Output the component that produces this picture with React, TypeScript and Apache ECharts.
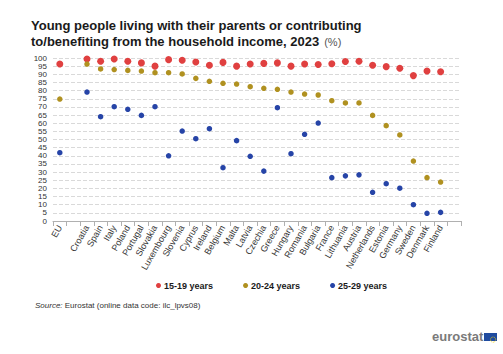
import React, { useEffect, useRef } from "react";
import * as echarts from "echarts";

const categories = ["EU", "", "Croatia", "Spain", "Italy", "Poland", "Portugal", "Slovakia", "Luxembourg", "Slovenia", "Cyprus", "Ireland", "Belgium", "Malta", "Latvia", "Czechia", "Greece", "Hungary", "Romania", "Bulgaria", "France", "Lithuania", "Austria", "Netherlands", "Estonia", "Germany", "Sweden", "Denmark", "Finland", " "];

const y15_19 = [96.3, null, 99.4, 98.0, 99.4, 98.0, 97.0, 95.0, 99.0, 98.6, 97.5, 95.5, 97.3, 95.0, 96.3, 96.7, 97.0, 95.0, 96.3, 96.0, 96.5, 97.8, 98.0, 95.5, 94.7, 93.7, 89.2, 92.0, 91.6, null];
const y20_24 = [74.8, null, 96.3, 93.3, 92.9, 92.4, 92.0, 91.0, 91.0, 90.2, 87.5, 85.7, 84.5, 84.0, 82.4, 81.4, 80.8, 79.1, 77.9, 77.3, 73.8, 72.4, 72.4, 64.8, 58.5, 52.8, 36.8, 26.6, 23.9, null];
const y25_29 = [41.9, null, 79.1, 64.0, 70.1, 68.5, 64.8, 70.1, 40.0, 55.2, 50.5, 56.6, 32.7, 49.3, 39.7, 30.6, 69.5, 41.3, 53.2, 60.1, 26.6, 27.7, 28.3, 17.6, 22.9, 20.1, 10.0, 4.7, 5.3, null];

const seriesNames = ["15-19 years", "20-24 years", "25-29 years"];
const colors = ["#E04040", "#B09120", "#2644A7"];

export default function App() {
  const ref = useRef<HTMLDivElement>(null);
  useEffect(() => {
    if (!ref.current) return;
    document.body.style.margin = "0";
    const chart = echarts.init(ref.current, undefined, { renderer: "svg" });
    const font = "Liberation Sans, Arial, sans-serif";
    chart.setOption({
      animation: false,
      backgroundColor: "#ffffff",
      textStyle: { fontFamily: font },
      title: {
        left: 26,
        top: 13,
        text: "{b|Young people living with their parents or contributing}\n{b|to/benefiting from the household income, 2023} {n|(%)}",
        textStyle: {
          rich: {
            b: { fontFamily: font, fontSize: 13, fontWeight: "bold", color: "#1a1a1a", lineHeight: 14.5 },
            n: { fontFamily: font, fontSize: 11, fontWeight: "normal", color: "#555555", lineHeight: 14.5 },
          },
        },
      },
      legend: {
        top: 276,
        left: 151,
        itemWidth: 5,
        itemHeight: 5,
        itemGap: 30,
        icon: "circle",
        textStyle: { fontFamily: font, fontSize: 9, fontWeight: "bold", color: "#1a1a1a", padding: [0, 0, 0, -2] },
        data: seriesNames,
      },
      grid: { left: 53, right: 42, top: 58, bottom: 133 },
      xAxis: {
        type: "category",
        data: categories,
        boundaryGap: true,
        axisLine: { lineStyle: { color: "#b0b0b0" } },
        axisTick: { show: true, alignWithLabel: false, interval: 0, lineStyle: { color: "#b0b0b0" } },
        axisLabel: { interval: 0, rotate: 60, fontSize: 9, color: "#333333", fontFamily: font, margin: 5 },
      },
      yAxis: {
        type: "value",
        min: 0,
        max: 100,
        interval: 5,
        axisLine: { show: false },
        axisTick: { show: false },
        axisLabel: {
          fontSize: 8,
          lineHeight: 8,
          color: "#333333",
          fontFamily: font,
          margin: 6,
          showMinLabel: true,
          showMaxLabel: true,
          hideOverlap: false,
        },
        splitLine: { lineStyle: { color: "#d9d9d9", type: "dashed", width: 1 } },
      },
      series: [
        { name: seriesNames[0], type: "scatter", data: y15_19, symbolSize: 7, itemStyle: { color: colors[0], opacity: 1 }, z: 3 },
        { name: seriesNames[1], type: "scatter", data: y20_24, symbolSize: 5.5, itemStyle: { color: colors[1], opacity: 1 }, z: 4 },
        { name: seriesNames[2], type: "scatter", data: y25_29, symbolSize: 5.5, itemStyle: { color: colors[2], opacity: 1 }, z: 5 },
      ],
      graphic: [
        {
          type: "text",
          left: 35,
          top: 301,
          style: {
            text: "{i|Source:} Eurostat (online data code: ilc_lpvs08)",
            fontFamily: font,
            fontSize: 8,
            fill: "#333333",
            rich: { i: { fontStyle: "italic", fontFamily: font, fontSize: 8, fill: "#333333" } },
          },
        },
        {
          type: "text",
          left: 432,
          top: 330,
          style: { text: "eurostat", fontFamily: font, fontSize: 13, fontWeight: "bold", fill: "#7a7a7a" },
        },
        {
          type: "rect",
          left: 484,
          top: 333,
          z: 10,
          shape: { x: 0, y: 0, width: 13, height: 8 },
          style: { fill: "#1f4ba0" },
        },
        {
          type: "circle",
          left: 488,
          top: 334.5,
          z: 11,
          shape: { cx: 0, cy: 0, r: 2.6 },
          style: { fill: "none", stroke: "#f5d20a", lineWidth: 1, lineDash: [0.8, 0.8] },
        },
      ],
    });
    return () => chart.dispose();
  }, []);
  return <div ref={ref} style={{ width: 503, height: 354 }} />;
}
